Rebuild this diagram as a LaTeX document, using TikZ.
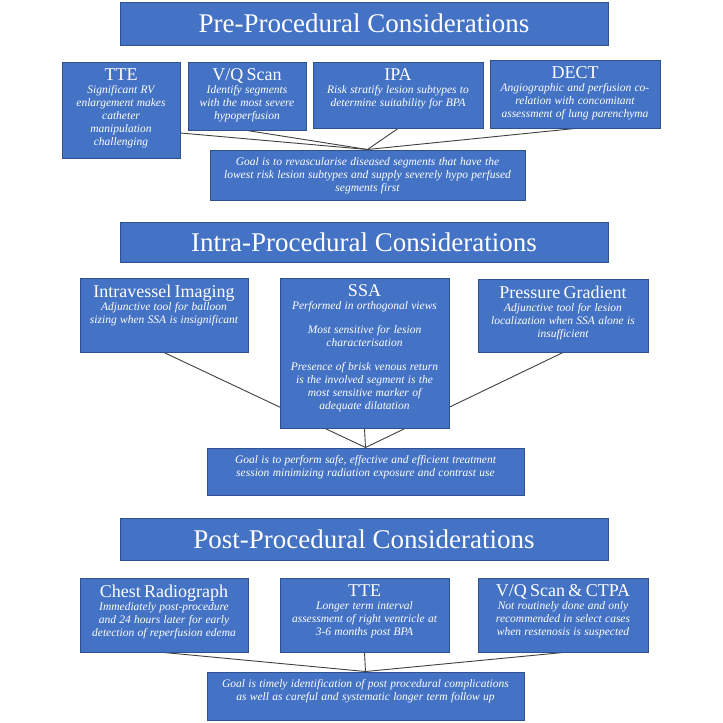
\documentclass[tikz,border=0pt]{standalone}
\usepackage{fontspec}
\setmainfont{Liberation Serif}
\usetikzlibrary{backgrounds,calc}
\definecolor{boxblue}{HTML}{4472C4}
\definecolor{boxedge}{HTML}{2F528F}
\definecolor{linkgray}{HTML}{404040}
\newcommand{\bxhead}[1]{{\fontsize{18}{18}\selectfont #1\par}}
\newcommand{\bxbody}[1]{{\fontsize{11.5}{13}\selectfont\itshape #1\par}}
\begin{document}
\begin{tikzpicture}[x=1pt,y=-1pt,
  blk/.style 2 args={draw=boxedge, line width=1pt, fill=boxblue, minimum width=#1, minimum height=#2, inner sep=0pt, text=white},
  ttl/.style={font=\fontsize{27}{27}\selectfont},
  txt/.style={text=white, align=center, inner sep=0pt, anchor=north},
  link/.style={draw=linkgray, line width=0.9pt}]
\useasboundingbox (0,0) rectangle (723,723);

% ---------- Pre-procedural ----------
\node[blk={488pt}{43pt}, ttl] (t1) at (364,23.5) {Pre-Procedural Considerations};
\node[blk={118pt}{96pt}] (tte) at (121,110) {};
\node[blk={118pt}{68pt}] (vq) at (247,96) {};
\node[blk={170pt}{66pt}] (ipa) at (398,95) {};
\node[blk={170pt}{68pt}] (dect) at (575,94) {};
\node[blk={315pt}{50pt}] (g1) at (367.5,175) {};

\node[txt, text width=116pt] (tte-t) at ([yshift=-7pt]tte.north) {\bxhead{TTE}\bxbody{Significant RV\\enlargement makes\\catheter\\manipulation\\challenging}};
\node[txt, text width=116pt] (vq-t) at ([yshift=-7pt]vq.north) {\bxhead{V/Q Scan}\bxbody{Identify segments\\with the most severe\\hypoperfusion}};
\node[txt, text width=168pt] (ipa-t) at ([yshift=-7pt]ipa.north) {\bxhead{IPA}\bxbody{Risk stratify lesion subtypes to\\determine suitability for BPA}};
\node[txt, text width=168pt] (dect-t) at ([yshift=-7pt]dect.north) {\bxhead{DECT}\bxbody{Angiographic and perfusion co-\\relation with concomitant\\assessment of lung parenchyma}};
\node[txt, text width=313pt] (g1-t) at ([yshift=-8pt]g1.north) {\bxbody{Goal is to revascularise diseased segments that have the\\lowest risk lesion subtypes and supply severely hypo perfused\\segments first}};

% ---------- Intra-procedural ----------
\node[blk={488pt}{40pt}, ttl] (t2) at (364,242) {Intra-Procedural Considerations};
\node[blk={168pt}{74pt}] (iv) at (164,315) {};
\node[blk={169pt}{150pt}] (ssa) at (364.5,353) {};
\node[blk={170pt}{73pt}] (pg) at (563,315.5) {};
\node[blk={317pt}{47pt}] (g2) at (365.5,471.5) {};

\node[txt, text width=166pt] (iv-t) at ([yshift=-7pt]iv.north) {\bxhead{Intravessel Imaging}\bxbody{Adjunctive tool for balloon\\sizing when SSA is insignificant}};
\node[txt, text width=167pt] (ssa-t) at ([yshift=-7pt]ssa.north) {\bxhead{SSA}\bxbody{Performed in orthogonal views\\[11pt]Most sensitive for lesion\\characterisation\\[11pt]Presence of brisk venous return\\is the involved segment is the\\most sensitive marker of\\adequate dilatation}};
\node[txt, text width=168pt] (pg-t) at ([yshift=-7pt]pg.north) {\bxhead{Pressure Gradient}\bxbody{Adjunctive tool for lesion\\localization when SSA alone is\\insufficient}};
\node[txt, text width=315pt] (g2-t) at ([yshift=-8pt]g2.north) {\bxbody{Goal is to perform safe, effective and efficient treatment\\session minimizing radiation exposure and contrast use}};

% ---------- Post-procedural ----------
\node[blk={488pt}{42pt}, ttl] (t3) at (364,539) {Post-Procedural Considerations};
\node[blk={168pt}{74pt}] (cr) at (164,615) {};
\node[blk={169pt}{74pt}] (tte2) at (364.5,615) {};
\node[blk={170pt}{74pt}] (vq2) at (563,615) {};
\node[blk={317pt}{48pt}] (g3) at (365.5,696) {};

\node[txt, text width=166pt] (cr-t) at ([yshift=-7pt]cr.north) {\bxhead{Chest Radiograph}\bxbody{Immediately post-procedure\\and 24 hours later for early\\detection of reperfusion edema}};
\node[txt, text width=167pt] (tte2-t) at ([yshift=-7pt]tte2.north) {\bxhead{TTE}\bxbody{Longer term interval\\assessment of right ventricle at\\3-6 months post BPA}};
\node[txt, text width=168pt] (vq2-t) at ([yshift=-7pt]vq2.north) {\bxhead{V/Q Scan \& CTPA}\bxbody{Not routinely done and only\\recommended in select cases\\when restenosis is suspected}};
\node[txt, text width=315pt] (g3-t) at ([yshift=-8pt]g3.north) {\bxbody{Goal is timely identification of post procedural complications\\as well as careful and systematic longer term follow up}};

% ---------- connectors (behind boxes) ----------
\begin{scope}[on background layer]
\fill[white] (0,0) rectangle (723,723);
\draw[link] ([yshift=-23pt]tte.east) -- (g1.north);
\draw[link] (vq.south) -- (g1.north);
\draw[link] (ipa.south) -- (g1.north);
\draw[link] (dect.south) -- (g1.north);
\draw[link] (iv.south) -- (g2.north);
\draw[link] (ssa.south) -- (g2.north);
\draw[link] (pg.south) -- (g2.north);
\draw[link] (cr.south) -- (g3.north);
\draw[link] (tte2.south) -- (g3.north);
\draw[link] (vq2.south) -- (g3.north);
\end{scope}
\end{tikzpicture}
\end{document}
